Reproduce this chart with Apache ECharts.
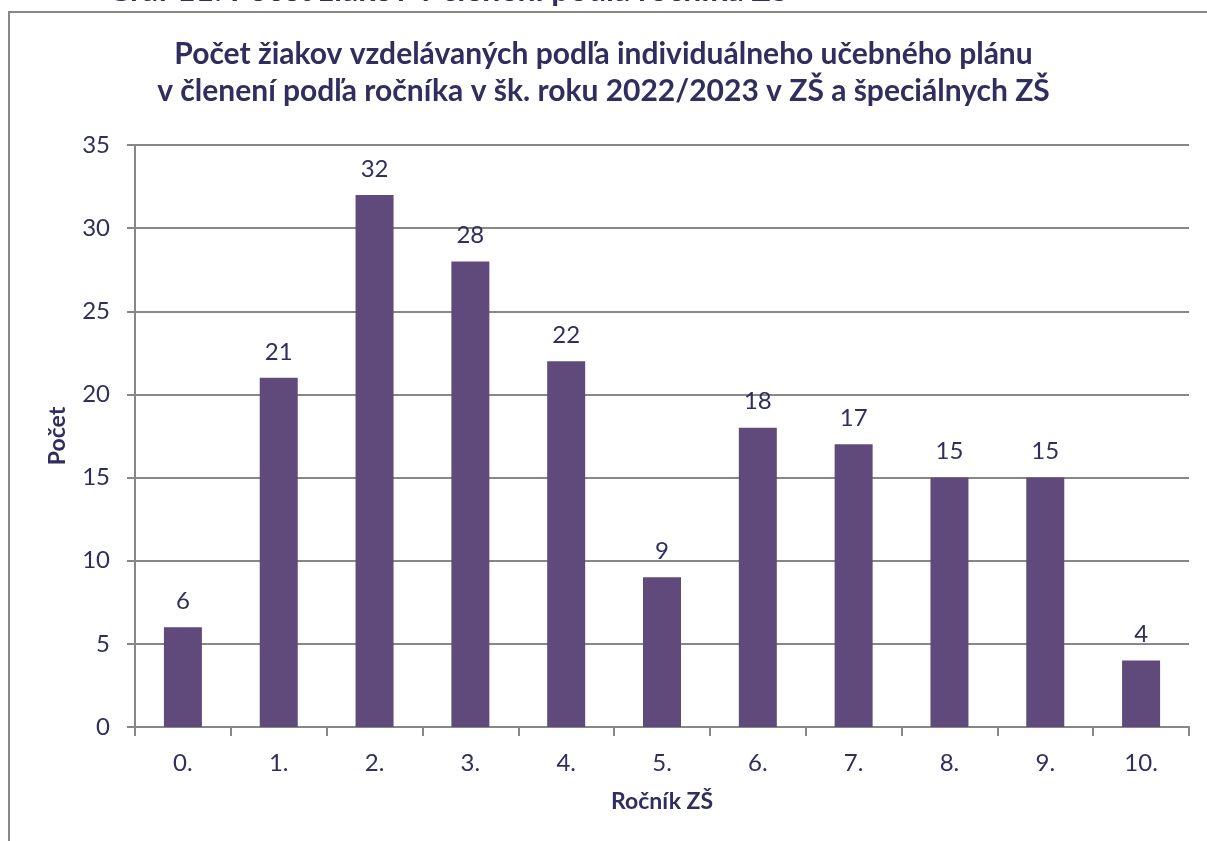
<!DOCTYPE html>
<html>
<head>
<meta charset="utf-8">
<script src="https://cdn.jsdelivr.net/npm/echarts@6/dist/echarts.min.js"></script>
<style>
html,body{margin:0;padding:0;background:#fff;}
#c{width:1207px;height:841px;}
</style>
</head>
<body>
<div id="c"></div>
<script>
const categories = ['0.', '1.', '2.', '3.', '4.', '5.', '6.', '7.', '8.', '9.', '10.'];
const values = [6, 21, 32, 28, 22, 9, 18, 17, 15, 15, 4];
const yTicks = { min: 0, max: 35, interval: 5 };
const titleLines = ['Počet žiakov vzdelávaných podľa individuálneho učebného plánu', 'v členení podľa ročníka v šk. roku 2022/2023 v ZŠ a špeciálnych ZŠ'];
const captionText = 'Graf 11: Počet žiakov v členení podľa ročníka ZŠ';

const navy = '#2f2e5f';
const gray = '#878787';
const font = 'Lato';

const chart = echarts.init(document.getElementById('c'), null, { renderer: 'canvas' });
chart.setOption({
  animation: false,
  backgroundColor: '#fff',
  title: {
    text: titleLines.join('\n'),
    left: 'center',
    top: 31,
    textStyle: { fontFamily: font, fontWeight: 'bold', fontSize: 30, color: navy, lineHeight: 37 }
  },
  graphic: [
    { type: 'rect', shape: { x: 9, y: 12, width: 1400, height: 1000 }, style: { fill: 'none', stroke: gray, lineWidth: 2 }, silent: true },
    { type: 'text', left: 107, top: -25, style: { text: captionText, fontFamily: font, fontWeight: 'bold', fontSize: 32, fill: navy } }
  ],
  grid: { left: 135, right: 18, top: 145, bottom: 114, containLabel: false },
  xAxis: {
    type: 'category',
    data: categories,
    name: 'Ročník ZŠ',
    nameLocation: 'middle',
    nameGap: 63,
    nameTextStyle: { fontFamily: font, fontWeight: 'bold', fontSize: 23, color: navy },
    axisLine: { lineStyle: { color: gray, width: 2 } },
    axisTick: { show: true, length: 9, lineStyle: { color: gray, width: 2 } },
    axisLabel: { fontFamily: font, fontSize: 24, color: navy, margin: 24 }
  },
  yAxis: {
    type: 'value',
    min: yTicks.min, max: yTicks.max, interval: yTicks.interval,
    name: 'Počet',
    nameLocation: 'middle',
    nameGap: 66,
    nameTextStyle: { fontFamily: font, fontWeight: 'bold', fontSize: 23, color: navy },
    axisLine: { show: true, lineStyle: { color: gray, width: 2 } },
    axisTick: { show: true, length: 8, lineStyle: { color: gray, width: 2 } },
    axisLabel: { fontFamily: font, fontSize: 24, color: navy, margin: 25 },
    splitLine: { show: true, lineStyle: { color: gray, width: 2 } }
  },
  series: [{
    type: 'bar',
    data: values,
    barWidth: 38,
    itemStyle: { color: '#604a7b' },
    label: { show: true, position: 'top', distance: 14, fontFamily: font, fontSize: 24, color: navy }
  }]
});
</script>
</body>
</html>
